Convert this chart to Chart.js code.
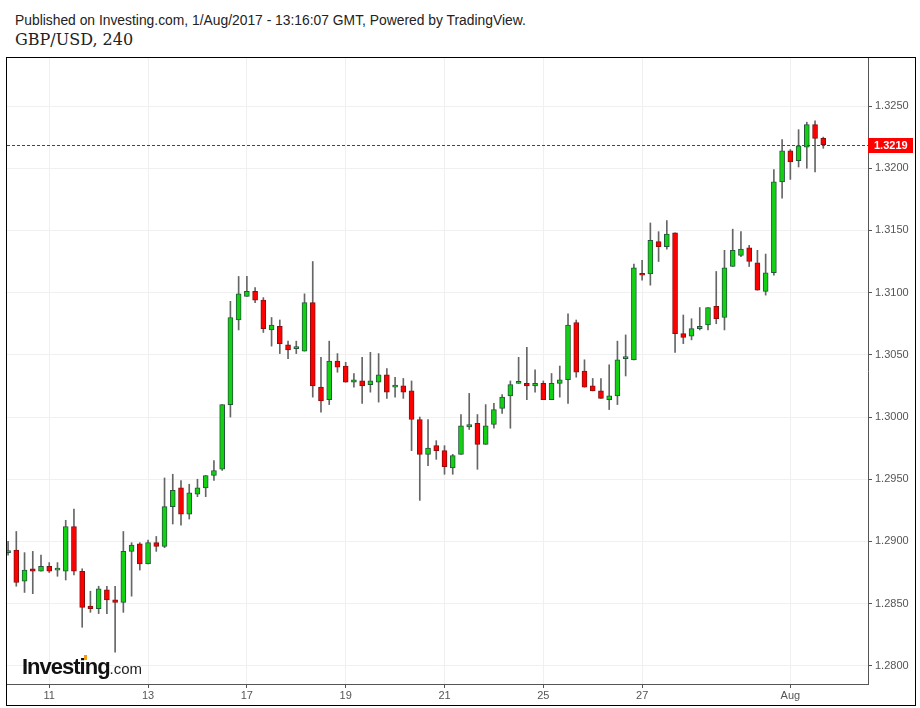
<!DOCTYPE html>
<html>
<head>
<meta charset="utf-8">
<title>GBP/USD, 240</title>
<script src="https://cdn.jsdelivr.net/npm/chart.js@4.4.1/dist/chart.umd.min.js"></script>
<style>
    body { margin: 0; background: #fff; width: 920px; height: 708px; position: relative; overflow: hidden; }
    .published { position: absolute; left: 15px; top: 12px; font: 13.85px/16px "Liberation Sans", Arial, sans-serif; color: #222; white-space: nowrap; }
    .symbol { position: absolute; left: 15px; top: 30px; font: 16px "DejaVu Serif", serif; color: #222; white-space: nowrap; }
    .frame { position: absolute; left: 6px; top: 57px; width: 910px; height: 649px; border: 1px solid #000; box-sizing: border-box; }
    .frame canvas { display: block; }
    .logo { position: absolute; left: 22px; top: 654px; line-height: 22px; white-space: nowrap; color: #111; }
    .logo b { font: bold 22px "Liberation Sans", Arial, sans-serif; letter-spacing: -1px; }
    .logo span { font: 15px "Liberation Sans", Arial, sans-serif; color: #222; }
    .logo i { position: absolute; left: 62px; top: 1px; width: 3px; height: 5px; background: #f39c12; }
</style>
</head>
<body>
<div class="published">Published on Investing.com, 1/Aug/2017 - 13:16:07 GMT, Powered by TradingView.</div>
<div class="symbol">GBP/USD, 240</div>
<div class="frame"><canvas id="candleChart" width="908" height="647"></canvas></div>
<div class="logo"><b>Investing</b><span>.com</span><i></i></div>

<script>
// 4h candles, 10 Jul - 1 Aug 2017
const opens = [
    1.2891, 1.2893, 1.2868, 1.2878, 1.2876, 1.2880, 1.2877, 1.2876, 1.2912, 1.2876,
    1.2848, 1.2846, 1.2861, 1.2853, 1.2851, 1.2892, 1.2898, 1.2882, 1.2899, 1.2896,
    1.2928, 1.2943, 1.2922, 1.2938, 1.2943, 1.2953, 1.2958, 1.3010, 1.3078, 1.3097,
    1.3101, 1.3094, 1.3070, 1.3073, 1.3058, 1.3055, 1.3053, 1.3092, 1.3024, 1.3014,
    1.3045, 1.3041, 1.3028, 1.3029, 1.3026, 1.3028, 1.3034, 1.3024, 1.3025, 1.3021,
    1.2998, 1.2970, 1.2977, 1.2973, 1.2959, 1.2970, 1.2992, 1.2995, 1.2978, 1.2994,
    1.3007, 1.3017, 1.3027, 1.3027, 1.3025, 1.3027, 1.3014, 1.3027, 1.3030, 1.3076,
    1.3037, 1.3025, 1.3021, 1.3014, 1.3017, 1.3047, 1.3046, 1.3115, 1.3115, 1.3141,
    1.3137, 1.3148, 1.3067, 1.3065, 1.3071, 1.3074, 1.3089, 1.3080, 1.3121, 1.3130,
    1.3136, 1.3124, 1.3101, 1.3116, 1.3189, 1.3214, 1.3206, 1.3217, 1.3235, 1.3224
];
const highs = [
    1.2900, 1.2908, 1.2891, 1.2892, 1.2889, 1.2883, 1.2883, 1.2917, 1.2926, 1.2878,
    1.2860, 1.2864, 1.2864, 1.2864, 1.2908, 1.2899, 1.2899, 1.2901, 1.2904, 1.2951,
    1.2954, 1.2949, 1.2946, 1.2950, 1.2953, 1.2965, 1.3010, 1.3093, 1.3113, 1.3113,
    1.3104, 1.3096, 1.3080, 1.3078, 1.3061, 1.3061, 1.3099, 1.3125, 1.3048, 1.3061,
    1.3051, 1.3044, 1.3035, 1.3048, 1.3052, 1.3051, 1.3039, 1.3032, 1.3031, 1.3029,
    1.3000, 1.2998, 1.2981, 1.2977, 1.2970, 1.3002, 1.3019, 1.3002, 1.3010, 1.3011,
    1.3018, 1.3029, 1.3048, 1.3056, 1.3038, 1.3029, 1.3035, 1.3041, 1.3083, 1.3078,
    1.3046, 1.3031, 1.3031, 1.3042, 1.3061, 1.3066, 1.3123, 1.3126, 1.3156, 1.3149,
    1.3158, 1.3148, 1.3082, 1.3079, 1.3088, 1.3088, 1.3117, 1.3134, 1.3151, 1.3149,
    1.3138, 1.3134, 1.3131, 1.3199, 1.3223, 1.3215, 1.3231, 1.3237, 1.3238, 1.3225
];
const lows = [
    1.2889, 1.2864, 1.2859, 1.2858, 1.2876, 1.2875, 1.2872, 1.2869, 1.2873, 1.2831,
    1.2843, 1.2842, 1.2842, 1.2811, 1.2843, 1.2856, 1.2877, 1.2882, 1.2892, 1.2895,
    1.2914, 1.2913, 1.2918, 1.2936, 1.2936, 1.2949, 1.2957, 1.3000, 1.3070, 1.3097,
    1.3092, 1.3068, 1.3057, 1.3051, 1.3047, 1.3051, 1.3053, 1.3016, 1.3004, 1.3010,
    1.3036, 1.3028, 1.3024, 1.3011, 1.3020, 1.3012, 1.3015, 1.3016, 1.3015, 1.2973,
    1.2933, 1.2961, 1.2966, 1.2954, 1.2954, 1.2970, 1.2990, 1.2958, 1.2978, 1.2991,
    1.3003, 1.2991, 1.3027, 1.3014, 1.3020, 1.3014, 1.3014, 1.3016, 1.3011, 1.3032,
    1.3024, 1.3021, 1.3015, 1.3006, 1.3010, 1.3033, 1.3046, 1.3110, 1.3106, 1.3125,
    1.3135, 1.3052, 1.3059, 1.3062, 1.3070, 1.3070, 1.3075, 1.3070, 1.3121, 1.3129,
    1.3121, 1.3102, 1.3098, 1.3114, 1.3176, 1.3191, 1.3201, 1.3200, 1.3197, 1.3216
];
const closes = [
    1.2892, 1.2867, 1.2877, 1.2876, 1.2880, 1.2876, 1.2877, 1.2912, 1.2876, 1.2847,
    1.2846, 1.2862, 1.2853, 1.2851, 1.2892, 1.2897, 1.2882, 1.2899, 1.2896, 1.2928,
    1.2941, 1.2922, 1.2939, 1.2943, 1.2953, 1.2957, 1.3010, 1.3080, 1.3099, 1.3101,
    1.3094, 1.3071, 1.3074, 1.3059, 1.3054, 1.3055, 1.3092, 1.3025, 1.3013, 1.3045,
    1.3040, 1.3028, 1.3030, 1.3025, 1.3029, 1.3034, 1.3020, 1.3024, 1.3020, 1.2998,
    1.2970, 1.2975, 1.2973, 1.2960, 1.2969, 1.2993, 1.2994, 1.2978, 1.2993, 1.3006,
    1.3016, 1.3026, 1.3027, 1.3025, 1.3027, 1.3014, 1.3027, 1.3030, 1.3074, 1.3036,
    1.3024, 1.3021, 1.3015, 1.3017, 1.3046, 1.3047, 1.3120, 1.3114, 1.3142, 1.3137,
    1.3147, 1.3067, 1.3064, 1.3071, 1.3073, 1.3088, 1.3079, 1.3120, 1.3134, 1.3135,
    1.3125, 1.3102, 1.3116, 1.3189, 1.3214, 1.3205, 1.3218, 1.3235, 1.3224, 1.3219
];

// first candle of each labelled day
const dayStartIdx = [5, 17, 29, 41, 53, 65, 77, 95];
const dayLabels = ["11", "13", "17", "19", "21", "25", "27", "Aug"];
const priceTicks = [1.2800, 1.2850, 1.2900, 1.2950, 1.3000, 1.3050, 1.3100, 1.3150, 1.3200, 1.3250];
const lastPrice = 1.3219;

const UP_FILL = "#12d012", UP_LINE = "#24573a";
const DOWN_FILL = "#ff0000", DOWN_LINE = "#8a0e0e";
const TICK_FONT = { family: "'Liberation Sans', Arial, sans-serif", size: 11 };

document.addEventListener("DOMContentLoaded", () => {
    drawCandles();
});

/* ==========================
   LAST PRICE LINE + TAG
========================== */
const lastPricePlugin = {
    id: "lastPrice",
    afterDatasetsDraw(chart) {
        const { ctx, chartArea, scales } = chart;
        const y = Math.round(scales.y.getPixelForValue(lastPrice));
        ctx.save();
        // dotted line, 3px on / 2px off
        ctx.fillStyle = "#f00000";
        for (let x = chartArea.left; x < chartArea.right; x += 5) {
            ctx.fillRect(x, y, Math.min(3, chartArea.right - x), 1);
        }

        ctx.fillStyle = "#ff0000";
        ctx.fillRect(chartArea.right, y - 7, 45, 15);
        ctx.fillStyle = "#fff";
        ctx.font = "bold 11px 'Liberation Sans', Arial, sans-serif";
        ctx.textBaseline = "middle";
        ctx.fillText(lastPrice.toFixed(4), chartArea.right + 6, y + 1);
        ctx.restore();
    }
};

// chart.js reserves room for edge labels; the axes here have none at the edges
function noEdgePadding(s) {
    s.paddingTop = 0;
    s.paddingBottom = 0;
    s.paddingLeft = 0;
    s.paddingRight = 0;
}

/* ==========================
   CANDLESTICKS
========================== */
function drawCandles() {
    const el = document.getElementById("candleChart");
    if (!el) return console.warn("canvas not found");

    const isUp = i => closes[i] >= opens[i];
    const bodies = opens.map((o, i) => ({ x: i, y: [o, closes[i]] }));
    const wicks = lows.map((l, i) => ({ x: i, y: [l, highs[i]] }));

    new Chart(el.getContext("2d"), {
        type: "bar",
        data: {
            datasets: [
                {
                    label: "body",
                    data: bodies,
                    order: 0,
                    grouped: false,
                    barThickness: 5,
                    minBarLength: 2,
                    borderWidth: 1,
                    borderSkipped: false,
                    backgroundColor: c => isUp(c.dataIndex) ? UP_FILL : DOWN_FILL,
                    borderColor: c => isUp(c.dataIndex) ? UP_LINE : DOWN_LINE
                },
                {
                    label: "wick",
                    data: wicks,
                    order: 1,
                    grouped: false,
                    barThickness: 1,
                    borderWidth: 0,
                    backgroundColor: "#666"
                }
            ]
        },
        options: {
            responsive: false,
            animation: false,
            layout: { padding: 0 },
            plugins: { legend: { display: false }, tooltip: { enabled: false } },
            scales: {
                x: {
                    type: "linear",
                    offset: false,
                    min: -0.13,
                    max: 104.43,
                    afterBuildTicks: s => { s.ticks = dayStartIdx.map(v => ({ value: v })); },
                    afterFit: s => { s.height = 21; noEdgePadding(s); },
                    ticks: {
                        autoSkip: false,
                        maxRotation: 0,
                        padding: 1,
                        color: "#555",
                        font: TICK_FONT,
                        callback: (v, i) => dayLabels[i]
                    },
                    grid: { offset: false, color: "#f0f0f0", tickColor: "#555", tickLength: 4 },
                    border: { color: "#555" }
                },
                y: {
                    position: "right",
                    min: 1.27854,
                    max: 1.32886,
                    afterBuildTicks: s => { s.ticks = priceTicks.map(v => ({ value: v })); },
                    afterFit: s => { s.width = 47; noEdgePadding(s); },
                    ticks: {
                        padding: 3,
                        color: "#555",
                        font: TICK_FONT,
                        callback: v => Number(v).toFixed(4)
                    },
                    grid: { color: "#f0f0f0", tickColor: "#555", tickLength: 4 },
                    border: { color: "#555" }
                }
            }
        },
        plugins: [lastPricePlugin]
    });
}
</script>
</body>
</html>
